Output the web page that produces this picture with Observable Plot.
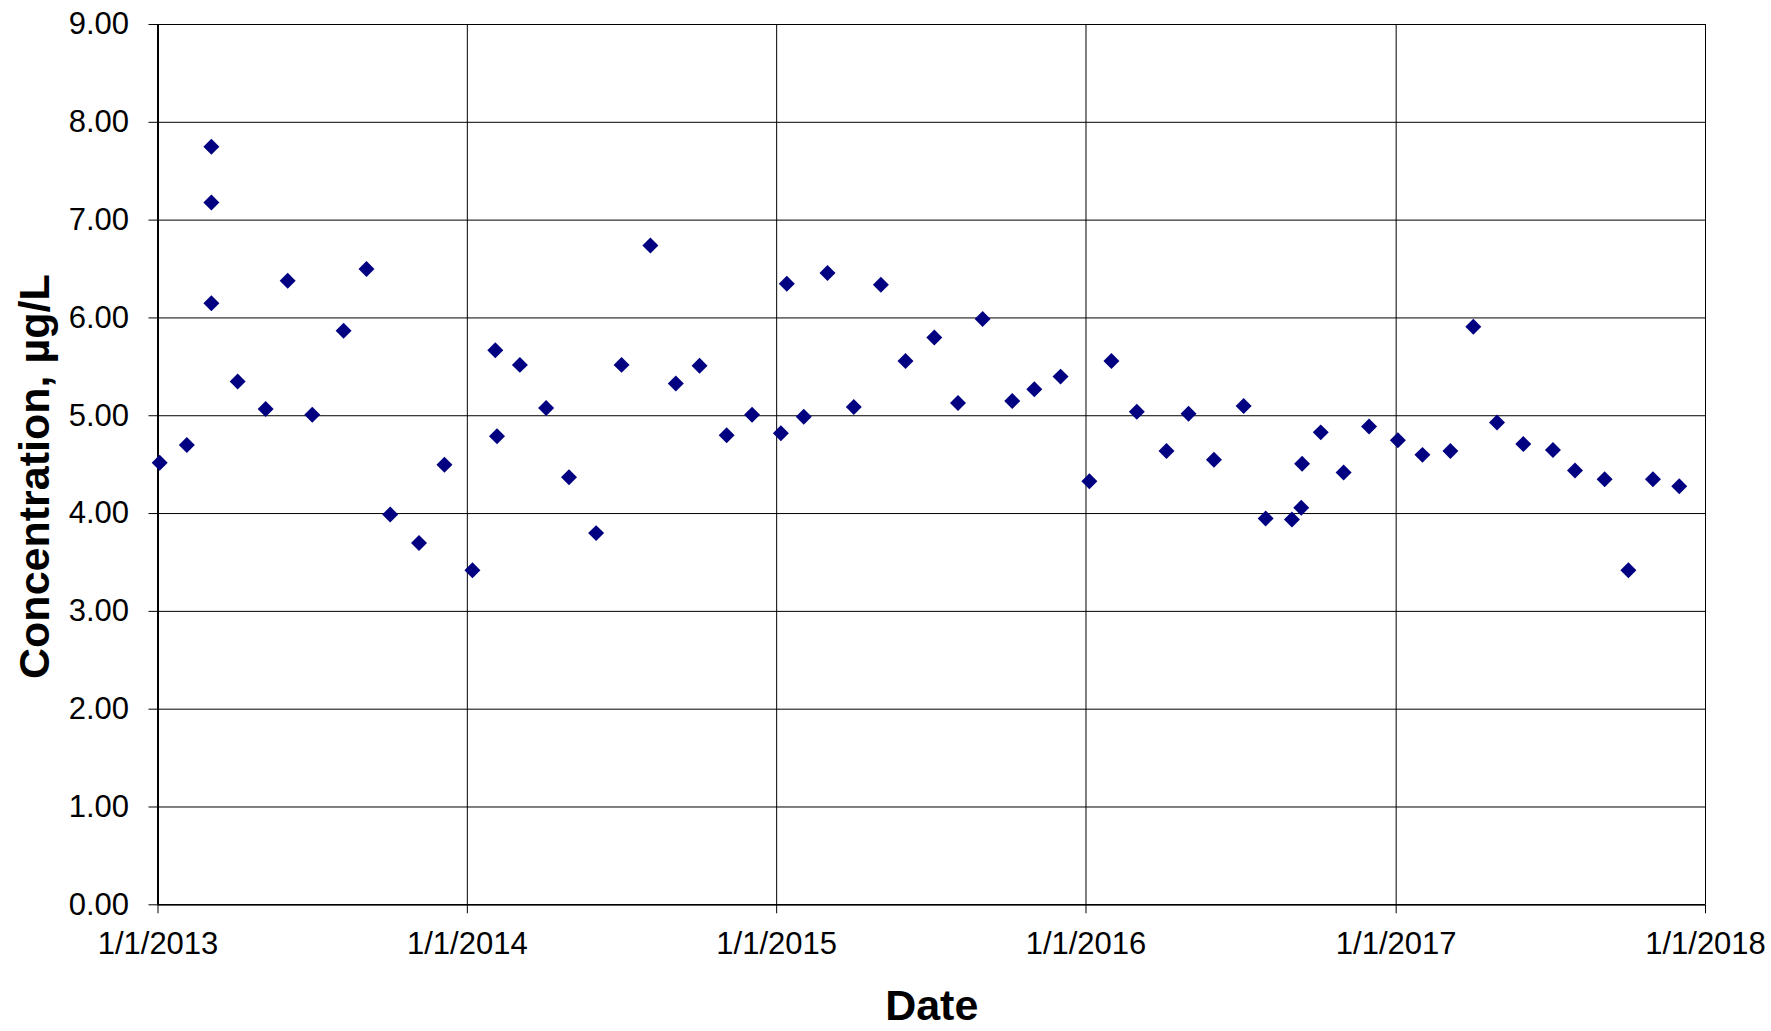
<!DOCTYPE html>
<html>
<head>
<meta charset="utf-8">
<script src="https://cdn.jsdelivr.net/npm/d3@7"></script>
<script src="https://cdn.jsdelivr.net/npm/@observablehq/plot@0.6"></script>
<style>
  html, body { margin: 0; padding: 0; background: #fff; }
  #chart svg { display: block; }
</style>
</head>
<body>
<div id="chart"></div>
<script>
// Sampling dates (UTC) and measured concentrations, µg/L
const sampleDates = [
  "2013-01-03", "2013-02-04", "2013-03-05", "2013-03-05", "2013-03-05", "2013-04-05",
  "2013-05-08", "2013-06-03", "2013-07-02", "2013-08-08", "2013-09-04", "2013-10-02",
  "2013-11-05", "2013-12-05", "2014-01-07", "2014-02-03", "2014-02-05", "2014-03-04",
  "2014-04-04", "2014-05-01", "2014-06-02", "2014-07-02", "2014-08-05", "2014-09-04",
  "2014-10-02", "2014-11-03", "2014-12-03", "2015-01-06", "2015-01-13", "2015-02-02",
  "2015-03-02", "2015-04-02", "2015-05-04", "2015-06-02", "2015-07-06", "2015-08-03",
  "2015-09-01", "2015-10-06", "2015-11-01", "2015-12-02", "2016-01-05", "2016-01-31",
  "2016-03-01", "2016-04-05", "2016-05-01", "2016-05-31", "2016-07-05", "2016-07-31",
  "2016-08-31", "2016-09-11", "2016-09-12", "2016-10-04", "2016-10-31", "2016-11-30",
  "2017-01-03", "2017-02-01", "2017-03-06", "2017-04-02", "2017-04-30", "2017-05-31",
  "2017-07-05", "2017-07-31", "2017-09-04", "2017-10-02", "2017-10-31", "2017-12-01"
];
const concentrations = [
  4.52, 4.70, 7.75, 7.18, 6.15, 5.35,
  5.07, 6.38, 5.01, 5.87, 6.50, 3.99,
  3.70, 4.50, 3.42, 5.67, 4.79, 5.52,
  5.08, 4.37, 3.80, 5.52, 6.74, 5.33,
  5.51, 4.80, 5.01, 4.82, 6.35, 4.99,
  6.46, 5.09, 6.34, 5.56, 5.80, 5.13,
  5.99, 5.15, 5.27, 5.40, 4.33, 5.56,
  5.04, 4.64, 5.02, 4.55, 5.10, 3.95,
  3.94, 4.06, 4.51, 4.83, 4.42, 4.89,
  4.75, 4.60, 4.64, 5.91, 4.93, 4.71,
  4.65, 4.44, 4.35, 3.42, 4.35, 4.28
];

// Axis ticks
const xTickDates = ["2013-01-01", "2014-01-01", "2015-01-01", "2016-01-01", "2017-01-01", "2018-01-01"];
const yTickValues = [0, 1, 2, 3, 4, 5, 6, 7, 8, 9];

// Axis titles
const xTitle = "Date";
const yTitle = "Concentration, µg/L";

const xTicks = xTickDates.map(s => new Date(s + "T00:00:00Z"));
const samples = sampleDates.map((s, i) => ({
  date: new Date(s + "T00:00:00Z"),
  value: concentrations[i]
}));

const chart = Plot.plot({
  width: 1771,
  height: 1031,
  marginLeft: 157.5,
  marginRight: 66,
  marginTop: 24,
  marginBottom: 126.7,
  style: {
    fontFamily: "'Liberation Sans', Arial, sans-serif",
    background: "#fff",
    color: "#000"
  },
  x: { type: "utc", domain: [xTicks[0], xTicks[xTicks.length - 1]] },
  y: { domain: [0, 9] },
  marks: [
    // grid: horizontal lines at each whole unit, vertical lines at each year
    Plot.gridY(yTickValues, { stroke: "#000", strokeOpacity: 1, strokeWidth: 1 }),
    Plot.gridX(xTicks, { stroke: "#000", strokeOpacity: 1, strokeWidth: 1 }),
    Plot.axisY(yTickValues, {
      tickSize: 9,
      tickPadding: 20,
      fontSize: 31,
      tickFormat: d3.format(".2f"),
      label: null
    }),
    Plot.axisX(xTicks, {
      tickSize: 9,
      tickPadding: 18,
      fontSize: 31,
      tickFormat: d3.utcFormat("%-m/%-d/%Y"),
      label: null
    }),
    // axis lines
    Plot.ruleX([xTicks[0]], { stroke: "#000", strokeWidth: 2 }),
    Plot.ruleY([0], { stroke: "#000", strokeWidth: 1.5 }),
    // samples
    Plot.dot(samples, {
      x: "date",
      y: "value",
      symbol: "diamond2",
      r: 7.2,
      fill: "#000080",
      stroke: "none"
    }),
    // axis titles
    Plot.text([xTitle], {
      text: d => d,
      frameAnchor: "bottom",
      dy: 115,
      lineAnchor: "bottom",
      fontSize: 43,
      fontWeight: "bold"
    }),
    Plot.text([yTitle], {
      text: d => d,
      frameAnchor: "left",
      rotate: -90,
      dx: -140,
      dy: 12,
      lineAnchor: "top",
      textAnchor: "middle",
      fontSize: 43,
      fontWeight: "bold"
    })
  ]
});

document.getElementById("chart").appendChild(chart);
</script>
</body>
</html>
